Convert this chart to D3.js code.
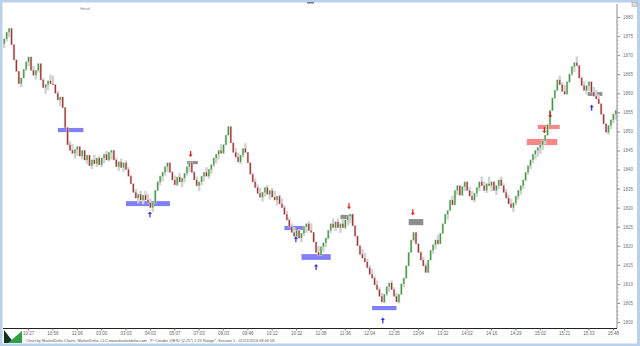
<!DOCTYPE html>
<html>
<head>
<meta charset="utf-8">
<script src="https://cdn.jsdelivr.net/npm/d3@7/dist/d3.min.js"></script>
<style>
  html, body { margin: 0; padding: 0; background: #fff; }
  svg { display: block; }
</style>
</head>
<body>
<svg id="chart"></svg>
<script>
const RANGE = 2.25

// closes of each 2.25 range bar (open = previous close)
const closes = [
  1874.25, 1876.0, 1877.0, 1872.75, 1868.75, 1865.75, 1862.5, 1864.0, 1866.25, 1868.25,
  1869.5, 1866.0, 1864.75, 1866.0, 1867.75, 1863.5, 1861.5, 1862.25, 1863.25, 1862.5,
  1862.25, 1860.0, 1858.25, 1859.0, 1856.25, 1851.0, 1846.5, 1845.0, 1844.25, 1845.25,
  1846.0, 1843.5, 1845.0, 1842.5, 1843.75, 1841.0, 1842.5, 1841.5, 1843.0, 1841.25,
  1843.0, 1844.0, 1842.5, 1844.5, 1845.0, 1842.5, 1840.75, 1842.0, 1840.5, 1841.75,
  1840.0, 1838.25, 1836.25, 1834.0, 1832.5, 1833.5, 1832.0, 1833.25, 1832.0, 1831.25,
  1830.0, 1831.25, 1834.5, 1836.75, 1838.25, 1839.25, 1840.75, 1841.75, 1839.25, 1837.25,
  1836.0, 1838.0, 1836.75, 1837.75, 1839.0, 1840.75, 1841.75, 1839.25, 1837.25, 1835.75,
  1836.75, 1838.25, 1839.25, 1838.25, 1840.0, 1841.25, 1843.0, 1844.0, 1845.0, 1844.25,
  1846.5, 1849.0, 1851.25, 1847.0, 1844.5, 1843.25, 1842.0, 1843.75, 1845.5, 1844.5,
  1841.75, 1838.75, 1836.75, 1835.25, 1833.75, 1832.75, 1834.0, 1835.25, 1833.5, 1834.5,
  1832.75, 1832.0, 1833.0, 1831.0, 1830.0, 1828.25, 1826.75, 1825.0, 1823.5, 1822.5,
  1824.0, 1822.0, 1823.25, 1825.0, 1825.75, 1824.0, 1823.5, 1821.0, 1818.25, 1817.5,
  1819.75, 1820.75, 1822.0, 1824.0, 1825.75, 1824.75, 1826.25, 1824.75, 1825.75, 1824.75,
  1826.75, 1827.75, 1828.25, 1825.25, 1822.5, 1820.0, 1817.75, 1816.75, 1815.75, 1814.25,
  1812.5, 1811.5, 1809.75, 1808.5, 1806.75, 1805.25, 1807.25, 1809.25, 1810.25, 1808.5,
  1806.75, 1805.25, 1807.25, 1810.0, 1811.5, 1814.75, 1818.25, 1821.5, 1823.5, 1820.5,
  1818.25, 1816.25, 1814.75, 1813.0, 1816.25, 1818.75, 1820.25, 1821.5, 1820.5, 1823.25,
  1825.75, 1828.25, 1829.25, 1832.0, 1830.75, 1834.5, 1835.75, 1833.25, 1835.5, 1836.75,
  1834.5, 1833.0, 1832.0, 1833.75, 1835.25, 1836.75, 1835.75, 1834.5, 1836.25, 1835.75,
  1836.75, 1834.5, 1835.75, 1837.25, 1835.75, 1834.0, 1832.5, 1831.0, 1830.0, 1831.25,
  1833.0, 1834.5, 1835.75, 1837.25, 1839.25, 1841.0, 1842.5, 1844.0, 1845.0, 1845.75,
  1846.5, 1847.5, 1849.0, 1851.75, 1855.5, 1858.75, 1860.75, 1863.5, 1862.25, 1860.5,
  1859.75, 1863.0, 1865.0, 1867.0, 1868.0, 1867.25, 1864.0, 1862.0, 1860.75, 1862.0,
  1863.0, 1860.25, 1859.25, 1858.5, 1857.25, 1854.5, 1852.0, 1849.75, 1851.5, 1853.0,
  1854.5, 1855.5
]
const firstOpen = 1873.0

const priceTicks = [1800, 1805, 1810, 1815, 1820, 1825, 1830, 1835, 1840, 1845, 1850, 1855, 1860, 1865, 1870, 1875, 1880]

const timeLabels = ['10:27', '10:56', '11:06', '03:00', '03:03', '04:03', '05:07', '07:03', '09:03', '09:46',
  '10:12', '10:32', '11:08', '11:36', '12:04', '12:35', '13:04', '13:32', '14:02', '14:16',
  '14:29', '15:02', '15:21', '15:33', '15:48']
const timeBars = [10, 20, 30, 40, 50, 60, 70, 80, 90, 100, 110, 120, 130, 140, 150, 160, 170, 180, 190, 200,
  210, 220, 230, 240, 250]

// zones drawn on the chart: bar from, bar to, top price, bottom price
const zoneStart = [22, 50, 75, 115, 122, 138, 166, 151, 214.5, 219, 239.5]
const zoneEnd   = [32.5, 68, 79.5, 123.5, 134, 143.5, 172, 161, 227, 228, 245.5]
const zoneTop   = [1850.9, 1831.7, 1842.2, 1825.2, 1817.8, 1828.1, 1827.0, 1804.2, 1848.0, 1851.7, 1860.3]
const zoneBot   = [1849.8, 1830.4, 1841.4, 1824.1, 1816.3, 1827.0, 1825.4, 1803.1, 1846.4, 1850.6, 1859.3]
const zoneKind  = ['buy', 'buy', 'flat', 'buy', 'buy', 'flat', 'flat', 'buy', 'sell', 'sell', 'flat']

// signal arrows: bar, price of arrow tip, direction
const arrowBar   = [59.8, 76.5, 119.7, 128, 141.5, 167.7, 155.4, 221.7, 224.1, 241.1]
const arrowPrice = [1829.0, 1843.3, 1822.5, 1815.2, 1829.6, 1828.0, 1801.2, 1849.5, 1853.6, 1857.0]
const arrowDir   = ['up', 'down', 'up', 'up', 'down', 'down', 'up', 'down', 'down', 'up']

const width = 640, height = 346
const plotLeft = 3, plotRight = 617

const svg = d3.select('#chart').attr('width', width).attr('height', height)
  .style('font-family', '"Liberation Sans", Arial, sans-serif')

// frame
svg.append('rect').attr('x', 0).attr('y', 0).attr('width', width).attr('height', height).attr('fill', '#fff')
svg.append('rect').attr('x', 0).attr('y', 0).attr('width', width).attr('height', 2.5).attr('fill', '#b9d1ea')
svg.append('rect').attr('x', 0).attr('y', 0).attr('width', 2.5).attr('height', height).attr('fill', '#b9d1ea')
svg.append('rect').attr('x', 637).attr('y', 0).attr('width', 3).attr('height', height).attr('fill', '#b9d1ea')
svg.append('rect').attr('x', 0).attr('y', 343.5).attr('width', width).attr('height', 3).attr('fill', '#b9d1ea')
svg.append('rect').attr('x', 307).attr('y', 2).attr('width', 7).attr('height', 1.5).attr('fill', '#6d7b8d')
svg.append('rect').attr('x', 632).attr('y', 2.5).attr('width', 5).attr('height', 4).attr('fill', '#ddd').attr('stroke', '#999').attr('stroke-width', 0.5)
svg.append('text').attr('x', 85).attr('y', 10).attr('font-size', 4).attr('fill', '#888').attr('text-anchor', 'middle').text('Head')

const x = d3.scaleBand().domain(d3.range(closes.length)).range([plotLeft, plotRight])
const y = d3.scaleLinear().domain([1800, 1880]).range([322, 17])
const bw = x.bandwidth()
const bx = i => plotLeft + (i + 0.5) * bw   // fractional bar positions for zones

// build OHLC out of the range bars
const bars = closes.map((c, i) => {
  const o = i === 0 ? firstOpen : closes[i - 1]
  let h, l
  if (c >= o) { h = c; l = Math.min(o, c - RANGE) }
  else { l = c; h = Math.max(o, c + RANGE) }
  return { i: i, o: o, c: c, h: h, l: l }
})

// zones
const zoneFill = { buy: '#7f7ff6', sell: '#f58787', flat: '#8e8e8e' }
svg.append('g').selectAll('rect')
  .data(zoneStart.map((s, k) => ({ s: s, e: zoneEnd[k], t: zoneTop[k], b: zoneBot[k], kind: zoneKind[k] })))
  .join('rect')
  .attr('x', d => bx(d.s))
  .attr('width', d => bx(d.e) - bx(d.s))
  .attr('y', d => y(d.t))
  .attr('height', d => y(d.b) - y(d.t))
  .attr('fill', d => zoneFill[d.kind])

// candles
const candles = svg.append('g')
candles.selectAll('rect.wick')
  .data(bars)
  .join('rect')
  .attr('class', 'wick')
  .attr('x', d => x(d.i))
  .attr('width', bw)
  .attr('y', d => y(d.h) - 0.5)
  .attr('height', d => y(d.l) - y(d.h) + 1)
  .attr('fill', '#d2d2d2')
candles.selectAll('rect.body')
  .data(bars)
  .join('rect')
  .attr('class', 'body')
  .attr('x', d => x(d.i) + 0.6)
  .attr('width', bw - 1.2)
  .attr('y', d => y(Math.max(d.o, d.c)))
  .attr('height', d => Math.max(1, Math.abs(y(d.o) - y(d.c))))
  .attr('fill', d => d.c >= d.o ? '#1a9a1a' : '#a81010')
  .attr('opacity', 0.85)

// arrows
const arrows = svg.append('g')
arrowBar.forEach((b, k) => {
  const ax = bx(b), ay = y(arrowPrice[k])
  const up = arrowDir[k] === 'up'
  const s = up ? 1 : -1
  const col = up ? '#2b2bea' : '#e41b1b'
  arrows.append('path')
    .attr('d', `M${ax},${ay} L${ax - 2},${ay + s * 2.5} L${ax + 2},${ay + s * 2.5} Z`)
    .attr('fill', col)
  arrows.append('rect')
    .attr('x', ax - 0.6).attr('width', 1.2)
    .attr('y', up ? ay + 2 : ay - 6).attr('height', 4)
    .attr('fill', col)
})

// right price axis
const yAxis = svg.append('g').attr('transform', `translate(${plotRight},0)`)
  .call(d3.axisRight(y).tickValues(priceTicks).tickSize(3).tickFormat(d3.format('d')))
yAxis.select('.domain').attr('stroke', '#8a8a8a').attr('d', `M0,4V328`)
yAxis.selectAll('line').attr('stroke', '#8a8a8a')
yAxis.selectAll('text').attr('font-size', 4.5).attr('fill', '#777').attr('x', 6)
svg.append('g').attr('transform', `translate(${plotRight},0)`)
  .call(d3.axisRight(y).tickValues(d3.range(1800, 1881, 1)).tickSize(1.5).tickFormat(''))
  .call(g => g.select('.domain').remove())
  .selectAll('line').attr('stroke', '#aaa')

// bottom time axis
const xAxis = svg.append('g').attr('transform', 'translate(0,328.5)')
  .call(d3.axisBottom(x).tickValues(timeBars).tickSize(2).tickFormat((d, k) => timeLabels[k]))
xAxis.select('.domain').attr('stroke', '#222').attr('d', `M${plotLeft},0H${plotRight}`)
xAxis.selectAll('line').attr('stroke', '#777')
xAxis.selectAll('text').attr('font-size', 4.5).attr('fill', '#666').attr('y', 3)

// logo + footnote
svg.append('path').attr('d', 'M4,330 L4,343 L14,343 Z').attr('fill', '#113322')
svg.append('path').attr('d', 'M8,343 L22,331 L22,343 Z').attr('fill', '#2f9e44')
svg.append('text').attr('x', 26).attr('y', 341.5).attr('font-size', 3.9).attr('fill', '#555')
  .text('Chart by MarketDelta Charts, MarketDelta, LLC www.marketdelta.com - P: Ctrader @ES# (2.25*) 2.25 Range*, Session 1 - 01/21/2016 09:46:58')
</script>
</body>
</html>
